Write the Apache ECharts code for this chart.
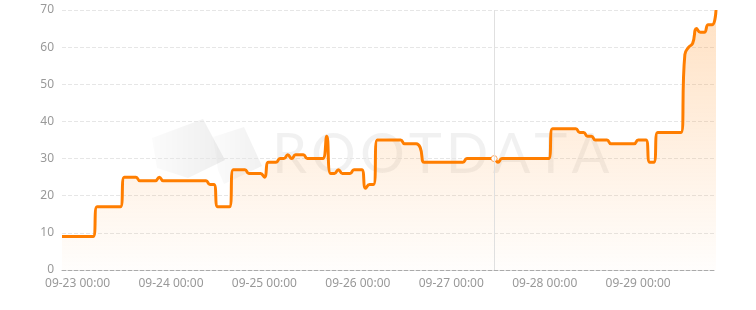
<!DOCTYPE html>
<html>
<head>
<meta charset="utf-8">
<script src="https://cdn.jsdelivr.net/npm/echarts@6/dist/echarts.min.js"></script>
<style>
html,body{margin:0;padding:0;background:#fff;}
#chart{width:756px;height:310px;}
</style>
</head>
<body>
<div id="chart"></div>
<script>
// hourly samples starting 09-22 20:00
const startYear = 2024, startMonth = 9, startDay = 22, startHour = 20;
const values = [
  9, 9, 9, 9, 9, 9, 9, 9, 9,
  17, 17, 17, 17, 17, 17, 17,
  25, 25, 25, 25,
  24, 24, 24, 24, 24,
  25,
  24, 24, 24, 24, 24, 24, 24, 24, 24, 24, 24, 24,
  23, 23,
  17, 17, 17, 17,
  27, 27, 27, 27,
  26, 26, 26, 26,
  25,
  29, 29, 29,
  30, 30,
  31,
  30,
  31, 31, 31,
  30, 30, 30, 30, 30,
  36,
  26, 26,
  27,
  26, 26, 26,
  27, 27, 27,
  22,
  23, 23,
  35, 35, 35, 35, 35, 35, 35,
  34, 34, 34, 34,
  33,
  29, 29, 29, 29, 29, 29, 29, 29, 29, 29, 29,
  30, 30, 30, 30, 30, 30, 30, 30,
  29,
  30, 30, 30, 30, 30, 30, 30, 30, 30, 30, 30, 30, 30,
  38, 38, 38, 38, 38, 38, 38,
  37, 37,
  36, 36,
  35, 35, 35, 35,
  34, 34, 34, 34, 34, 34, 34,
  35, 35, 35,
  29, 29,
  37, 37, 37, 37, 37, 37, 37,
  58,
  60,
  61,
  65,
  64, 64,
  66, 66,
  70
];
const yTicks = [0, 10, 20, 30, 40, 50, 60, 70];
const hoverIndex = 111;
const watermarkText = 'ROOTDATA';

function pad(n){ return (n < 10 ? '0' : '') + n; }
const categories = [];
for (let i = 0; i < values.length; i++) {
  const d = new Date(Date.UTC(startYear, startMonth - 1, startDay, startHour + i));
  categories.push(pad(d.getUTCMonth() + 1) + '-' + pad(d.getUTCDate()) + ' ' + pad(d.getUTCHours()) + ':00');
}

// watermark letters with tracking
const wmFont = '400 56px Lato, sans-serif';
const cv = document.createElement('canvas').getContext('2d');
cv.font = wmFont;
const wmGraphics = [];
let wx = 272;
const tracking = 4;
for (const ch of watermarkText) {
  wmGraphics.push({
    type: 'text', z: -10, silent: true, x: wx, y: 127,
    style: { text: ch, font: wmFont, fill: 'rgba(0,0,0,0.055)' }
  });
  wx += cv.measureText(ch).width + tracking;
}

const chart = echarts.init(document.getElementById('chart'));
const font = '"Noto Sans", sans-serif';
chart.setOption({
  animation: false,
  grid: { left: 62, right: 40, top: 10, bottom: 40 },
  tooltip: {
    trigger: 'axis',
    showContent: false,
    axisPointer: { type: 'line', lineStyle: { color: '#e0e0e0', width: 1, type: 'solid' } }
  },
  graphic: [
    {
      type: 'polygon', z: -10, silent: true,
      shape: { points: [[152, 138], [203, 119], [225, 160], [188, 178], [157, 168]] },
      style: { fill: new echarts.graphic.LinearGradient(0, 0, 1, 0, [
        { offset: 0, color: 'rgba(0,0,0,0.015)' }, { offset: 1, color: 'rgba(0,0,0,0.065)' }]) }
    },
    {
      type: 'polygon', z: -10, silent: true,
      shape: { points: [[213, 137], [244, 127], [262, 166], [224, 184], [218, 170]] },
      style: { fill: new echarts.graphic.LinearGradient(0, 0, 1, 0, [
        { offset: 0, color: 'rgba(0,0,0,0.015)' }, { offset: 1, color: 'rgba(0,0,0,0.055)' }]) }
    }
  ].concat(wmGraphics),
  xAxis: {
    type: 'category',
    data: categories,
    boundaryGap: false,
    axisLine: { lineStyle: { color: '#aaaaaa', type: 'dashed' } },
    axisTick: { show: false },
    axisLabel: {
      color: '#999999', fontSize: 12, fontFamily: font, margin: 8,
      interval: function (idx, val) { return val.slice(-5) === '00:00'; }
    },
    splitLine: { show: false }
  },
  yAxis: {
    type: 'value',
    min: yTicks[0], max: yTicks[yTicks.length - 1], interval: 10,
    axisLine: { show: false },
    axisTick: { show: false },
    axisLabel: { color: '#999999', fontSize: 12, fontFamily: font, margin: 8 },
    splitLine: { lineStyle: { color: '#e6e6e6', type: 'dashed' } }
  },
  series: [{
    type: 'line',
    data: values,
    smooth: true,
    showSymbol: false,
    symbol: 'circle',
    symbolSize: 6,
    lineStyle: { color: '#ff7300', width: 3 },
    itemStyle: { color: '#ffffff', borderColor: '#ff7300', borderWidth: 0.6 },
    emphasis: { scale: false, itemStyle: { color: '#ffffff', borderColor: '#ff7300', borderWidth: 0.6 } },
    areaStyle: {
      color: new echarts.graphic.LinearGradient(0, 0, 0, 1, [
        { offset: 0, color: 'rgba(255,130,30,0.38)' },
        { offset: 1, color: 'rgba(255,130,30,0.02)' }
      ])
    }
  }]
});
chart.dispatchAction({ type: 'showTip', seriesIndex: 0, dataIndex: hoverIndex });
</script>
</body>
</html>
